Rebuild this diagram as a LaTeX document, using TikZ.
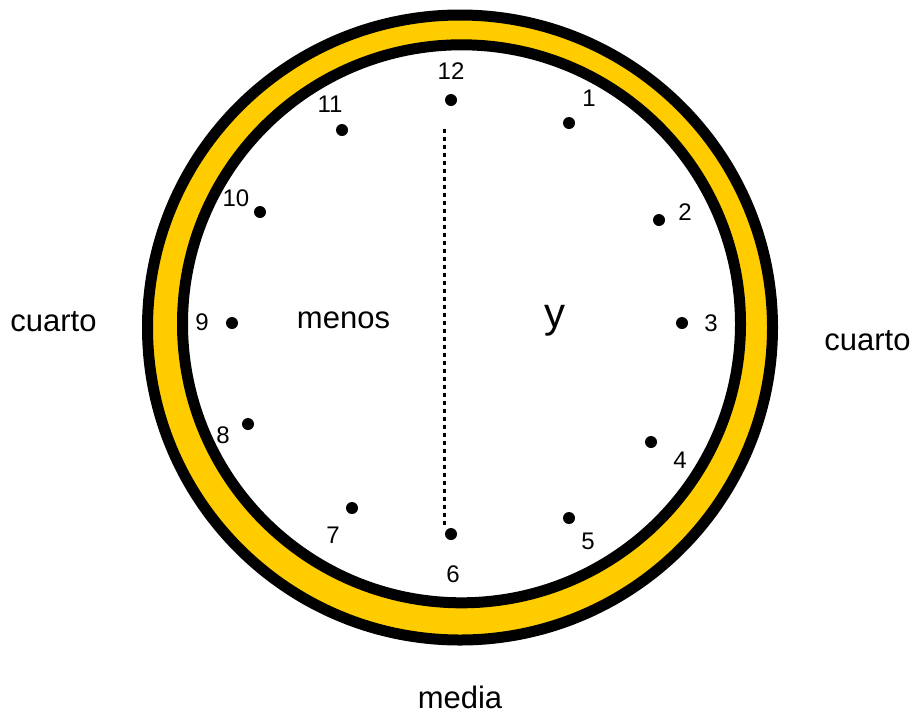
\documentclass[tikz,border=0pt]{standalone}
\usepackage{fontspec}
\setmainfont{Liberation Sans}
\definecolor{ringyellow}{RGB}{255,204,0}

\begin{document}
\begin{tikzpicture}[
  x=1pt, y=-1pt,
  dot/.style={circle, fill=black, inner sep=0pt, minimum size=12pt},
  hour/.style={inner sep=0pt, font=\fontsize{24}{28}\selectfont},
  word/.style={inner sep=0pt, font=\fontsize{31}{36}\selectfont},
  rim/.style={draw=black, line width=11pt},
  half/.style={line width=3pt, dash pattern=on 3.5pt off 4.5pt},
]
\useasboundingbox (0,0) rectangle (915,716);

% ---- the clock face
\draw[rim, fill=ringyellow] (460,327.5) circle[radius=312.5];
\draw[rim, fill=white] (461.5,323.8) circle[radius=279];

% ---- hour dots and numbers
\foreach \n/\dx/\dy/\lx/\ly in {12/451/100/451/71, 1/569/123/589/98, 2/659/220/685/212,
    3/682/323/711/323, 4/651/442/680/460, 5/569/518/588/541, 6/451/534/453/574,
    7/352/508/333/535, 8/248/424/223/435, 9/232/323/202/322, 10/260/212/236/198,
    11/342/130/330/104}{
  \node[dot] (d\n) at (\dx,\dy) {};
  \node[hour] (h\n) at (\lx,\ly) {\n};
}

% ---- the dividing line
\coordinate (top) at (444.5,129);
\coordinate (bot) at (444.5,526);
\draw[half] (top) -- (bot);

% ---- words
\node[word] (menos) at (343.5,320) {menos};
\node[inner sep=0pt, font=\fontsize{42}{48}\selectfont] (y) at (555,321) {y};
\node[word] (cuartoL) at (53.5,322) {cuarto};
\node[word] (cuartoR) at (867.5,341) {cuarto};
\node[word] (media) at (460,697) {media};
\end{tikzpicture}
\end{document}
